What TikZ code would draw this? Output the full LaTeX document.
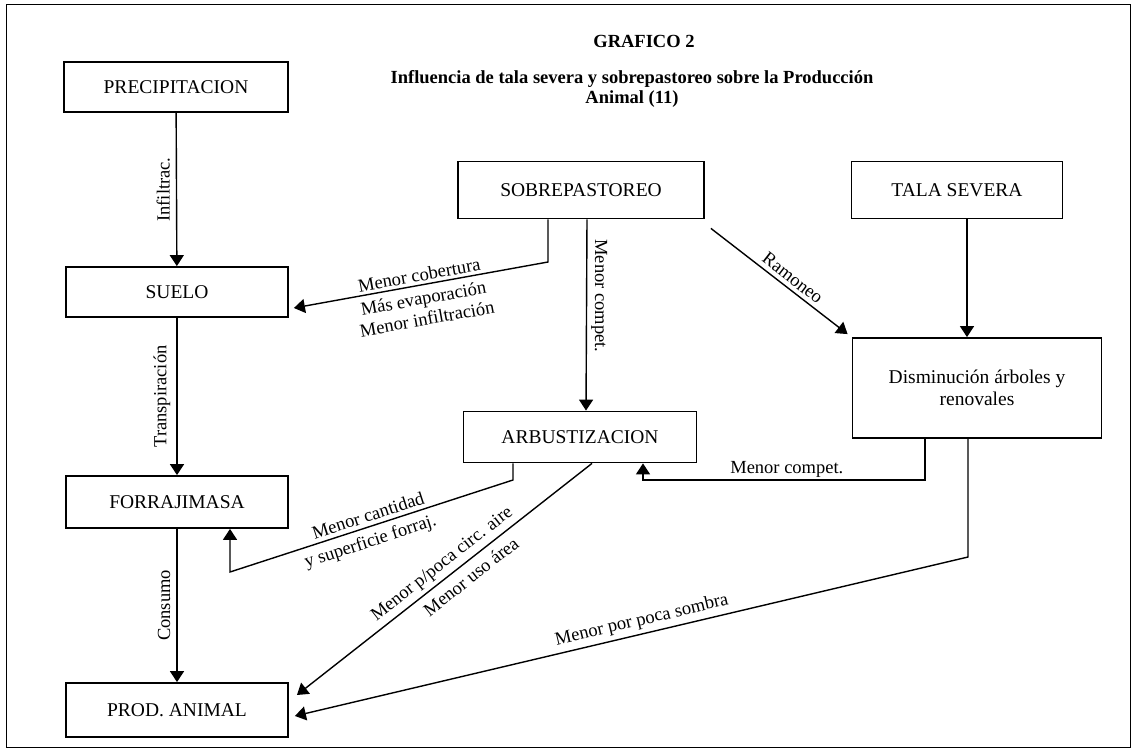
\documentclass[tikz,border=0pt]{standalone}
\usepackage{fontspec}
\setmainfont{Liberation Serif}
\usetikzlibrary{calc, positioning, arrows.meta}

\begin{document}
\begin{tikzpicture}[x=1pt, y=-1pt, >={Triangle[width=14pt,length=11pt]},
    box/.style={draw, line width=1.8pt, inner sep=0pt, align=center,
                font=\fontsize{19.5}{22}\selectfont},
    lbl/.style={font=\fontsize{18.5}{21}\selectfont, inner sep=4pt},
    link/.style={->, line width=1.4pt}]
  \useasboundingbox (0,0) rectangle (1136,749);
  \draw[line width=1pt] (6,5) rectangle (1130,747);

  % Title
  \node[font=\bfseries\fontsize{18.5}{21}\selectfont] (title) at (644,41) {GRAFICO 2};
  \node[font=\bfseries\fontsize{18.5}{20}\selectfont, align=center] (subtitle) at (632,89)
    {Influencia de tala severa y sobrepastoreo sobre la Producción\\Animal (11)};

  % Left column
  \node[box, minimum width=224pt, minimum height=50pt] (prec) at (176,87) {PRECIPITACION};
  \node[box, minimum width=222pt, minimum height=50pt] (suelo) at (177,292) {SUELO};
  \node[box, minimum width=222pt, minimum height=52pt] (forr) at (177,502) {FORRAJIMASA};
  \node[box, minimum width=222pt, minimum height=54pt] (prod) at (177,710) {PROD. ANIMAL};

  % Top row
  \node[box, minimum width=246pt, minimum height=57pt] (sobre) at (581,190) {SOBREPASTOREO};
  \node[box, minimum width=211pt, minimum height=57pt] (tala) at (957,190) {TALA SEVERA};

  % Middle row
  \node[box, minimum width=233pt, minimum height=51pt] (arbu) at (580,437) {ARBUSTIZACION};
  \node[box, minimum width=249pt, minimum height=100pt] (dism) at (977,388)
    {Disminución árboles y\\renovales};

  % Left column flow
  \draw[link] (prec) -- node[lbl, rotate=90, anchor=south, inner sep=6pt] {Infiltrac.} (suelo);
  \draw[link] (suelo) -- node[lbl, rotate=90, anchor=south, inner sep=6pt] {Transpiración} (forr);
  \draw[link] (forr) -- node[lbl, rotate=90, anchor=south, inner sep=6pt] {Consumo} (prod);

  % Sobrepastoreo
  \coordinate (cobK) at (548,262);
  \draw[link] (sobre.south -| cobK) -- (cobK)
    -- node[lbl, sloped, above, inner sep=3pt] {Menor cobertura}
       node[lbl, sloped, below, align=center, inner sep=6pt] {Más evaporación\\Menor infiltración}
    ([shift={(5,16)}]suelo.east);
  \draw[link] ([xshift=6pt]sobre.south) -- node[lbl, rotate=-90, anchor=south, pos=0.4] {Menor compet.}
    ([xshift=6pt]arbu.north);
  \draw[link] ([shift={(6,9)}]sobre.south east) -- node[lbl, sloped, above, pos=0.55] {Ramoneo}
    ([shift={(-4,-3)}]dism.north west);

  % Tala severa
  \draw[link] ([xshift=10pt]tala.south) -- ([xshift=-10pt]dism.north);

  % Disminucion arboles
  \coordinate (cmpK) at (925,480);
  \coordinate (cmpE) at ([xshift=63pt]arbu.south);
  \draw[link] (dism.south -| cmpK) -- (cmpK)
    -- node[lbl, above, pos=0.49, inner sep=2pt] {Menor compet.} (cmpK -| cmpE) -- (cmpE);
  \coordinate (sombK) at (968,557);
  \draw[link] (dism.south -| sombK) -- (sombK)
    -- node[lbl, sloped, above, pos=0.48] {Menor por poca sombra} ([shift={(6,6)}]prod.east);

  % Arbustizacion
  \draw[link] ([xshift=12pt]arbu.south)
    -- node[lbl, sloped, above, pos=0.48] {Menor p/poca circ. aire}
       node[lbl, sloped, below, pos=0.44, inner sep=7pt] {Menor uso área}
    ([shift={(8,-15)}]prod.east);
  \coordinate (canK) at (513,480);
  \coordinate (canL) at (230,572);
  \draw[link] (arbu.south -| canK) -- (canK)
    -- node[lbl, sloped, above, pos=0.5] {Menor cantidad}
       node[lbl, sloped, below, pos=0.52, inner sep=6pt] {y superficie forraj.}
    (canL) -- (forr.south -| canL);
\end{tikzpicture}
\end{document}
